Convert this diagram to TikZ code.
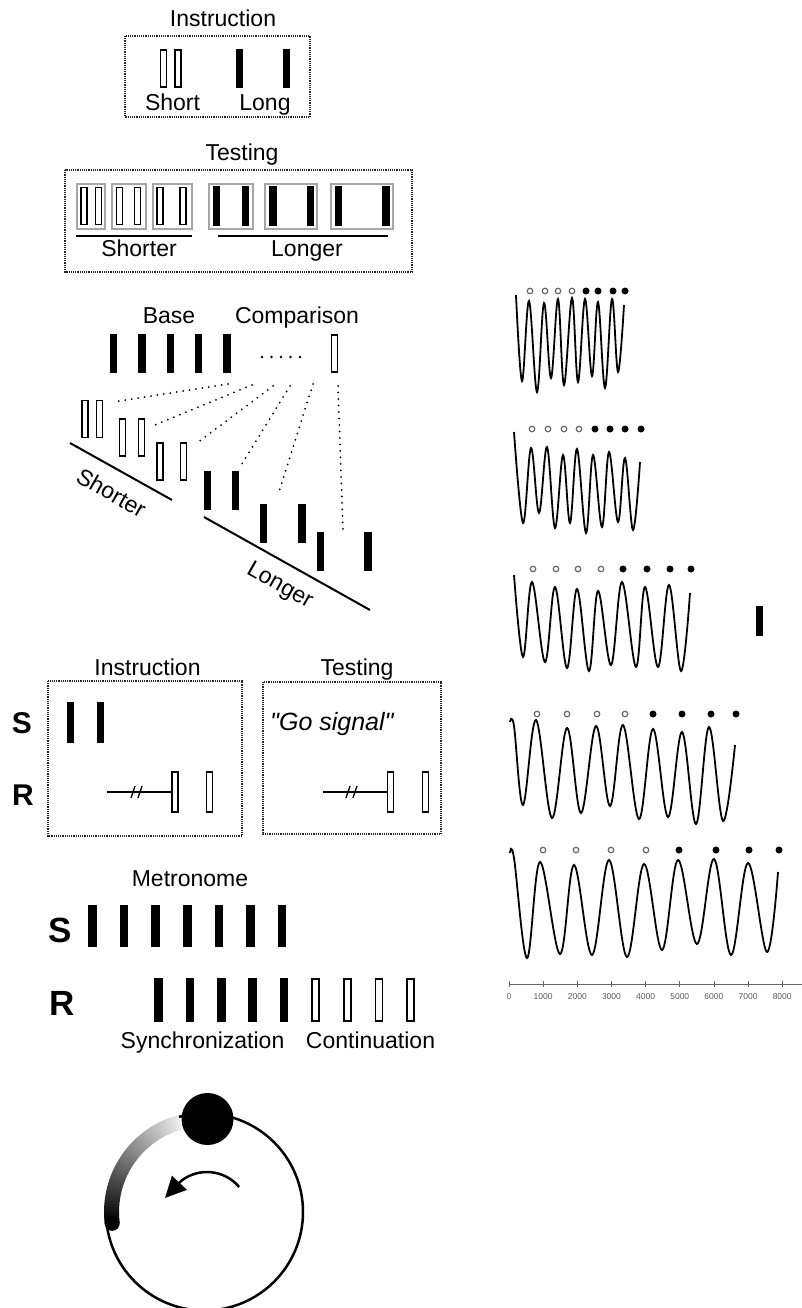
\documentclass[tikz,border=0pt]{standalone}
\usepackage{fontspec}
\setmainfont{Liberation Sans}[Ligatures=TeXOff]
\usetikzlibrary{arrows.meta}

\begin{document}
\begin{tikzpicture}[x=1pt,y=-1pt,
    txt/.style={font=\fontsize{23}{26}\selectfont, inner sep=0pt},
    sr/.style={font=\fontsize{30}{32}\selectfont\bfseries, inner sep=0pt, anchor=base},
    openbar/.style={draw, line width=1.7pt, minimum width=6pt, minimum height=37pt, inner sep=0pt},
    fillbar/.style={fill=black, minimum width=7.5pt, minimum height=39pt, inner sep=0pt},
    dotbox/.style={draw=black!85, line width=1.6pt, dash pattern=on 1.2pt off 1pt},
    frame/.style={draw=black!35, line width=1.3pt},
    guide/.style={line width=2pt, line cap=round, dash pattern=on 0pt off 6.5pt},
    wave/.style={line width=1.8pt, smooth, tension=0.6},
    odot/.style={circle, draw=black!60, line width=1.2pt, minimum size=5.5pt, inner sep=0pt},
    fdot/.style={circle, fill=black, minimum size=7pt, inner sep=0pt},
    ]
\useasboundingbox (0,0) rectangle (802,1308);

% instruction, top
\node[txt, anchor=base] (instrA) at (223,27) {Instruction};
\draw[dotbox] (125,36) rectangle (310,117);
\node[openbar] (shA) at (163.5,68.5) {};
\node[openbar] (shB) at (178,68.5) {};
\node[fillbar] (lgA) at (239.5,68.5) {};
\node[fillbar] (lgB) at (286.5,68.5) {};
\node[txt, anchor=base] (shortlbl) at (172.5,111) {Short};
\node[txt, anchor=base] (longlbl) at (265,111) {Long};

% testing, top
\node[txt, anchor=base] (testA) at (242,161) {Testing};
\draw[dotbox] (65,170) rectangle (412,272);
\draw[frame] (77,184) rectangle (105,229);
\draw[frame] (112,184) rectangle (146,229);
\draw[frame] (153,184) rectangle (192,229);
\draw[frame] (209,184) rectangle (253,229);
\draw[frame] (265,184) rectangle (317,229);
\draw[frame] (331,184) rectangle (393,229);
\node[openbar] (tsA) at (84,206) {};
\node[openbar] (tsB) at (98.5,206) {};
\node[openbar] (tsC) at (119.5,206) {};
\node[openbar] (tsD) at (137.5,206) {};
\node[openbar] (tsE) at (160,206) {};
\node[openbar] (tsF) at (183,206) {};
\node[fillbar] (tlA) at (216.5,206) {};
\node[fillbar] (tlB) at (245.5,206) {};
\node[fillbar] (tlC) at (273,206) {};
\node[fillbar] (tlD) at (310.5,206) {};
\node[fillbar] (tlE) at (338.5,206) {};
\node[fillbar] (tlF) at (386,206) {};
\draw[line width=2pt] (76,236) -- (192,236);
\draw[line width=2pt] (218,236) -- (388,236);
\node[txt, anchor=base] (shorterA) at (139,256) {Shorter};
\node[txt, anchor=base] (longerA) at (307,256) {Longer};

% base and comparison
\node[txt, anchor=base] (baselbl) at (169,323) {Base};
\node[txt, anchor=base] (complbl) at (297,323) {Comparison};
\node[fillbar] (bs1) at (113.5,353.5) {};
\node[fillbar] (bs2) at (142,353.5) {};
\node[fillbar] (bs3) at (170.5,353.5) {};
\node[fillbar] (bs4) at (198.5,353.5) {};
\node[fillbar] (bs5) at (227,353.5) {};
\foreach \x in {262,271.5,281,290.5,300}
  \fill (\x,357) circle (1.3);
\node[openbar] (cmp) at (334.5,353.5) {};

\node[openbar] (p1a) at (85,419) {};
\node[openbar] (p1b) at (99.5,419) {};
\node[openbar] (p2a) at (122.5,437.5) {};
\node[openbar] (p2b) at (141.5,437.5) {};
\node[openbar] (p3a) at (160,461.5) {};
\node[openbar] (p3b) at (183.5,461.5) {};
\node[fillbar] (p4a) at (207.5,490) {};
\node[fillbar] (p4b) at (235.5,490) {};
\node[fillbar] (p5a) at (263.5,523) {};
\node[fillbar] (p5b) at (302,523) {};
\node[fillbar] (p6a) at (320.5,551) {};
\node[fillbar] (p6b) at (368,551) {};

\coordinate (t1) at (228,384);
\coordinate (t2) at (252,385);
\coordinate (t3) at (273,386);
\coordinate (t4) at (290,386);
\coordinate (t5) at (313,384);
\coordinate (t6) at (338,386);
\coordinate (g1) at (113,402);
\coordinate (g2) at (150,427);
\coordinate (g3) at (197,443);
\coordinate (g4) at (240,467);
\coordinate (g5) at (278,495);
\coordinate (g6) at (343,530);
\draw[guide] (t1) -- (g1);
\draw[guide] (t2) -- (g2);
\draw[guide] (t3) -- (g3);
\draw[guide] (t4) -- (g4);
\draw[guide] (t5) -- (g5);
\draw[guide] (t6) -- (g6);

\draw[line width=2pt] (70,443) -- (172,500);
\draw[line width=2pt] (204,517) -- (370,610);
\node[txt, rotate=-29.5] (shorterB) at (111.5,492.5) {Shorter};
\node[txt, rotate=-29.5] (longerB) at (279.5,586) {Longer};

% waveforms
\draw[wave] plot coordinates {(516,295) (522,381) (529,301) (537,392) (544,303) (551,378) (558,299) (564,385) (572,298) (578,382) (585,299) (592,376) (598,302) (605,388) (612,299) (618,372) (624,305)};
\draw[wave] plot coordinates {(514,432) (523,523) (531,448) (539,513) (547,447) (555,528) (563,455) (570,523) (577,449) (586,533) (593,455) (602,527) (609,452) (618,522) (625,458) (633,530) (640,462)};
\draw[wave] plot coordinates {(514,575) (523,657) (532,582) (545,662) (555,587) (567,668) (577,589) (589,671) (598,591) (611,665) (622,582) (636,667) (645,587) (658,667) (669,585) (681,671) (690,593)};
\draw[wave] plot coordinates {(510,722) (514,726) (523,805) (536,720) (552,818) (567,728) (581,813) (596,726) (610,806) (623,725) (639,819) (653,729) (668,817) (682,732) (696,824) (709,727) (723,821) (735,745)};
\draw[wave] plot coordinates {(510,853) (514,858) (527,958) (540,862) (560,954) (574,865) (592,955) (609,860) (627,957) (644,864) (662,950) (678,860) (697,944) (714,859) (731,955) (748,863) (767,952) (778,872)};

\foreach \x in {530,545,558,572} \node[odot] (wa\x) at (\x,291) {};
\foreach \x in {586,598,613,625} \node[fdot] (wa\x) at (\x,291) {};
\foreach \x in {532,548,564,579} \node[odot] (wb\x) at (\x,429) {};
\foreach \x in {595,610,625,641} \node[fdot] (wb\x) at (\x,429) {};
\foreach \x in {533,556,578,601} \node[odot] (wc\x) at (\x,569) {};
\foreach \x in {623,647,670,691} \node[fdot] (wc\x) at (\x,569) {};
\foreach \x in {537,567,597,625} \node[odot] (wd\x) at (\x,714) {};
\foreach \x in {653,682,711,736} \node[fdot] (wd\x) at (\x,714) {};
\foreach \x in {543,576,611,646} \node[odot] (we\x) at (\x,850) {};
\foreach \x in {679,716,749,779} \node[fdot] (we\x) at (\x,850) {};

\node[fillbar, minimum height=30pt] (mark) at (759.5,621) {};

% time axis
\draw[black!60, line width=1pt] (509,984) -- (802,984);
\foreach \k in {0,...,8} {
  \draw[black!60, line width=0.8pt] (509+34.15*\k,981) -- (509+34.15*\k,987);
  \node[font=\fontsize{8.5}{9}\selectfont, text=black!65, inner sep=0pt, anchor=base] (ax\k) at (509+34.15*\k,999) {\pgfmathparse{int(1000*\k)}\pgfmathresult};
}

% instruction / testing with S and R
\node[txt, anchor=base] (instrB) at (147.5,675) {Instruction};
\node[txt, anchor=base] (testB) at (357,675) {Testing};
\draw[dotbox] (48,681) rectangle (242,836);
\draw[dotbox] (263,682) rectangle (441,834);
\node[sr] (sA) at (22,733) {S};
\node[sr] (rA) at (23,805) {R};
\node[fillbar, minimum height=41pt] (stA) at (70.5,722.5) {};
\node[fillbar, minimum height=41pt] (stB) at (100.5,722.5) {};
\node[openbar, minimum height=40pt] (rsA) at (175,792) {};
\node[openbar, minimum height=40pt] (rsB) at (209.5,792) {};
\coordinate (waitA) at (107,792);
\draw[line width=1.6pt] (waitA) -- (rsA.west);
\draw[line width=1.4pt] (131,798) -- (135,786) (138,798) -- (142,786);
\node[txt, font=\fontsize{25}{28}\selectfont\itshape, anchor=base west] (gosig) at (270,730) {"Go signal"};
\node[openbar, minimum height=40pt] (rsC) at (390.5,792) {};
\node[openbar, minimum height=40pt] (rsD) at (425.5,792) {};
\coordinate (waitB) at (323,792);
\draw[line width=1.6pt] (waitB) -- (rsC.west);
\draw[line width=1.4pt] (346,798) -- (350,786) (353,798) -- (357,786);

% metronome
\node[txt, anchor=base] (metro) at (190,886) {Metronome};
\node[sr, font=\fontsize{35}{37}\selectfont\bfseries] (sB) at (60,942) {S};
\node[sr, font=\fontsize{35}{37}\selectfont\bfseries] (rB) at (62,1015) {R};
\foreach \i in {0,...,6}
  \node[fillbar, minimum width=8.5pt, minimum height=42pt] (met\i) at (92.5+31.6*\i,926) {};
\foreach \i in {0,...,4}
  \node[fillbar, minimum width=8.5pt, minimum height=44pt] (syn\i) at (158.5+31.4*\i,1000) {};
\foreach \i in {0,...,3}
  \node[openbar, minimum width=7pt, minimum height=42.5pt] (con\i) at (315.8+31.6*\i,1000) {};
\node[txt, anchor=base] (synlbl) at (202.5,1048) {Synchronization};
\node[txt, anchor=base] (conlbl) at (370.5,1048) {Continuation};

% circle
\coordinate (hub) at (204.5,1212);
\draw[line width=2.5pt] (hub) circle (98.5);
\foreach \i in {0,...,40} {
  \pgfmathsetmacro{\a}{105+2*\i}
  \pgfmathsetmacro{\k}{8+92*\i/40}
  \draw[line width=15pt, draw=black!\k] ([shift={(-\a:93)}]hub) arc[start angle=-\a, end angle=-\a-2.3, radius=93];
}
\fill ([shift={(-187:93)}]hub) circle (7.5);
\node[circle, fill=black, minimum size=52pt, inner sep=0pt] (ball) at (207.5,1119) {};
\coordinate (spinA) at ([shift={(-40:42)}]207,1214);
\coordinate (spinB) at (165,1198);
\draw[line width=2.5pt, -{Triangle[length=21pt,width=20pt]}] (spinA) arc[start angle=-40, end angle=-128, radius=42] -- (spinB);
\end{tikzpicture}
\end{document}
